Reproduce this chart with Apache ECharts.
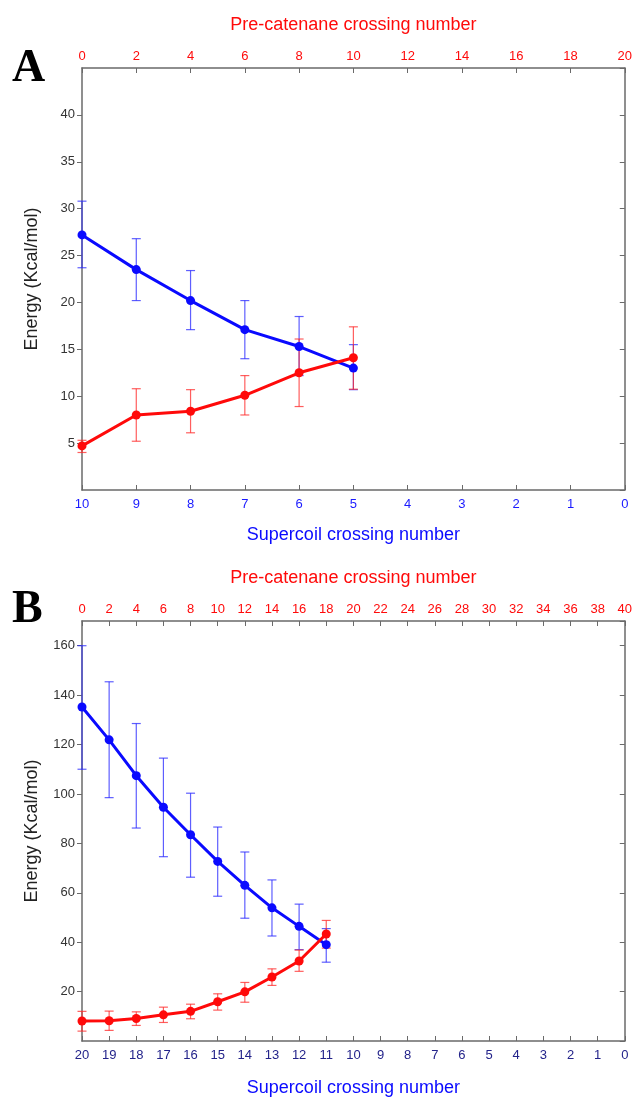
<!DOCTYPE html>
<html>
<head>
<meta charset="utf-8">
<script src="https://cdn.jsdelivr.net/npm/echarts@6/dist/echarts.min.js"></script>
<style>
html,body{margin:0;padding:0;background:#fff;}
#c{width:635px;height:1098px;}
</style>
</head>
<body>
<div id="c"></div>
<script>
// ---- Panel A data (x = pre-catenane crossing number) ----
const preA = [0, 2, 4, 6, 8, 10];
const blueA = [27.2, 23.5, 20.2, 17.1, 15.3, 13.0];
const blueAHi = [30.8, 26.8, 23.4, 20.2, 18.5, 15.5];
const blueALo = [23.7, 20.2, 17.1, 14.0, 12.2, 10.7];
const redA = [4.7, 8.0, 8.4, 10.1, 12.5, 14.1];
const redAHi = [5.3, 10.8, 10.7, 12.2, 16.1, 17.4];
const redALo = [4.0, 5.2, 6.1, 8.0, 8.9, 10.75];

// ---- Panel B data ----
const preB = [0, 2, 4, 6, 8, 10, 12, 14, 16, 18];
const blueB = [135.2, 121.9, 107.4, 94.6, 83.5, 72.7, 63.0, 53.9, 46.4, 39.0];
const blueBHi = [160, 145.4, 128.5, 114.5, 100.3, 86.6, 76.5, 65.2, 55.4, 45.5];
const blueBLo = [110, 98.5, 86.2, 74.6, 66.3, 58.6, 49.7, 42.5, 37.0, 31.9];
const redB = [8.1, 8.2, 9.1, 10.6, 12.0, 15.9, 19.9, 25.9, 32.4, 43.3];
const redBHi = [12.0, 12.1, 11.8, 13.7, 14.9, 19.1, 23.7, 29.2, 36.8, 48.8];
const redBLo = [4.0, 4.3, 6.3, 7.5, 9.0, 12.5, 15.7, 22.5, 28.2, 37.6];

// axis ranges
const topMaxA = 20, botMaxA = 10, yMaxA = 45, yIntA = 5;
const topMaxB = 40, botMaxB = 20, yMaxB = 170, yIntB = 20;

const topTitle = 'Pre-catenane crossing number';
const botTitle = 'Supercoil crossing number';
const yTitle = 'Energy (Kcal/mol)';

const BLUE = '#0a0aff', RED = '#ff0a0a';
const AXIS = '#6a6a6a';
const FONT = '"Liberation Sans", Arial, sans-serif';

const chart = echarts.init(document.getElementById('c'), null, {renderer: 'canvas'});

const grids = [
  {left: 82, right: 8, top: 68, height: 422},
  {left: 82, right: 8, top: 621, height: 422}
];

function xAxes(gi, topMax, botMax, botLabelColor, botGap) {
  return [
    { // top: pre-catenane
      type: 'value', gridIndex: gi, position: 'top', min: 0, max: topMax, interval: 2,
      name: topTitle, nameLocation: 'middle', nameGap: 34,
      nameTextStyle: {color: RED, fontSize: 18, fontFamily: FONT},
      axisLine: {show: true, onZero: false, lineStyle: {color: AXIS, width: 1.5}},
      axisTick: {show: true, inside: true, length: 5, lineStyle: {color: AXIS}},
      axisLabel: {color: RED, fontSize: 13, fontFamily: FONT, margin: 5},
      splitLine: {show: false}
    },
    { // bottom: supercoil
      type: 'value', gridIndex: gi, position: 'bottom', min: 0, max: botMax, interval: 1,
      inverse: true,
      name: botTitle, nameLocation: 'middle', nameGap: botGap,
      nameTextStyle: {color: BLUE, fontSize: 18, fontFamily: FONT},
      axisLine: {show: true, onZero: false, lineStyle: {color: AXIS, width: 1.5}},
      axisTick: {show: true, inside: true, length: 5, lineStyle: {color: AXIS}},
      axisLabel: {color: botLabelColor, fontSize: 13, fontFamily: FONT, margin: 8},
      splitLine: {show: false}
    }
  ];
}
function yAxes(gi, yMax, yInt) {
  return [
    {
      type: 'value', gridIndex: gi, position: 'left', min: 0, max: yMax, interval: yInt,
      name: yTitle, nameLocation: 'middle', nameGap: 41,
      nameTextStyle: {color: '#222', fontSize: 18, fontFamily: FONT},
      axisLine: {show: true, onZero: false, lineStyle: {color: AXIS, width: 1.5}},
      axisTick: {show: true, inside: false, length: 5, lineStyle: {color: AXIS}},
      axisLabel: {color: '#333', fontSize: 13, fontFamily: FONT, margin: 7, showMinLabel: false, showMaxLabel: false},
      splitLine: {show: false}
    },
    {
      type: 'value', gridIndex: gi, position: 'right', min: 0, max: yMax, interval: yInt,
      axisLine: {show: true, onZero: false, lineStyle: {color: AXIS, width: 1.5}},
      axisTick: {show: true, inside: true, length: 5, lineStyle: {color: AXIS}},
      axisLabel: {show: false},
      splitLine: {show: false}
    }
  ];
}

function errRender(color) {
  return function (params, api) {
    const x = api.value(0);
    const lo = api.coord([x, api.value(1)]);
    const hi = api.coord([x, api.value(2)]);
    const w = 4.5;
    const st = {stroke: color, lineWidth: 1.2};
    return {
      type: 'group',
      children: [
        {type: 'line', shape: {x1: lo[0], y1: lo[1], x2: hi[0], y2: hi[1]}, style: st},
        {type: 'line', shape: {x1: lo[0] - w, y1: lo[1], x2: lo[0] + w, y2: lo[1]}, style: st},
        {type: 'line', shape: {x1: hi[0] - w, y1: hi[1], x2: hi[0] + w, y2: hi[1]}, style: st}
      ]
    };
  };
}

function panelSeries(xIdx, yIdx, xs, bV, bHi, bLo, rV, rHi, rLo) {
  return [
    {type: 'custom', xAxisIndex: xIdx, yAxisIndex: yIdx, renderItem: errRender('rgba(40,40,255,0.75)'),
     data: xs.map((x, i) => [x, bLo[i], bHi[i]]), z: 2, clip: false},
    {type: 'custom', xAxisIndex: xIdx, yAxisIndex: yIdx, renderItem: errRender('rgba(255,40,40,0.75)'),
     data: xs.map((x, i) => [x, rLo[i], rHi[i]]), z: 2, clip: false},
    {type: 'line', xAxisIndex: xIdx, yAxisIndex: yIdx, data: xs.map((x, i) => [x, bV[i]]),
     symbol: 'circle', symbolSize: 9, lineStyle: {color: BLUE, width: 3}, itemStyle: {color: BLUE},
     z: 3, animation: false},
    {type: 'line', xAxisIndex: xIdx, yAxisIndex: yIdx, data: xs.map((x, i) => [x, rV[i]]),
     symbol: 'circle', symbolSize: 9, lineStyle: {color: RED, width: 3}, itemStyle: {color: RED},
     z: 3, animation: false}
  ];
}

const option = {
  animation: false,
  backgroundColor: '#fff',
  grid: grids,
  xAxis: [].concat(xAxes(0, topMaxA, botMaxA, '#1a1aff', 36), xAxes(1, topMaxB, botMaxB, '#23238a', 38)),
  yAxis: [].concat(yAxes(0, yMaxA, yIntA), yAxes(1, yMaxB, yIntB)),
  series: [].concat(
    panelSeries(0, 0, preA, blueA, blueAHi, blueALo, redA, redAHi, redALo),
    panelSeries(2, 2, preB, blueB, blueBHi, blueBLo, redB, redBHi, redBLo)
  ),
  graphic: [
    {type: 'text', left: 12, top: 46, style: {text: 'A', font: 'bold 46px "Liberation Serif", "Times New Roman", serif', fill: '#000'}},
    {type: 'text', left: 12, top: 587, style: {text: 'B', font: 'bold 46px "Liberation Serif", "Times New Roman", serif', fill: '#000'}}
  ]
};
chart.setOption(option);
</script>
</body>
</html>
